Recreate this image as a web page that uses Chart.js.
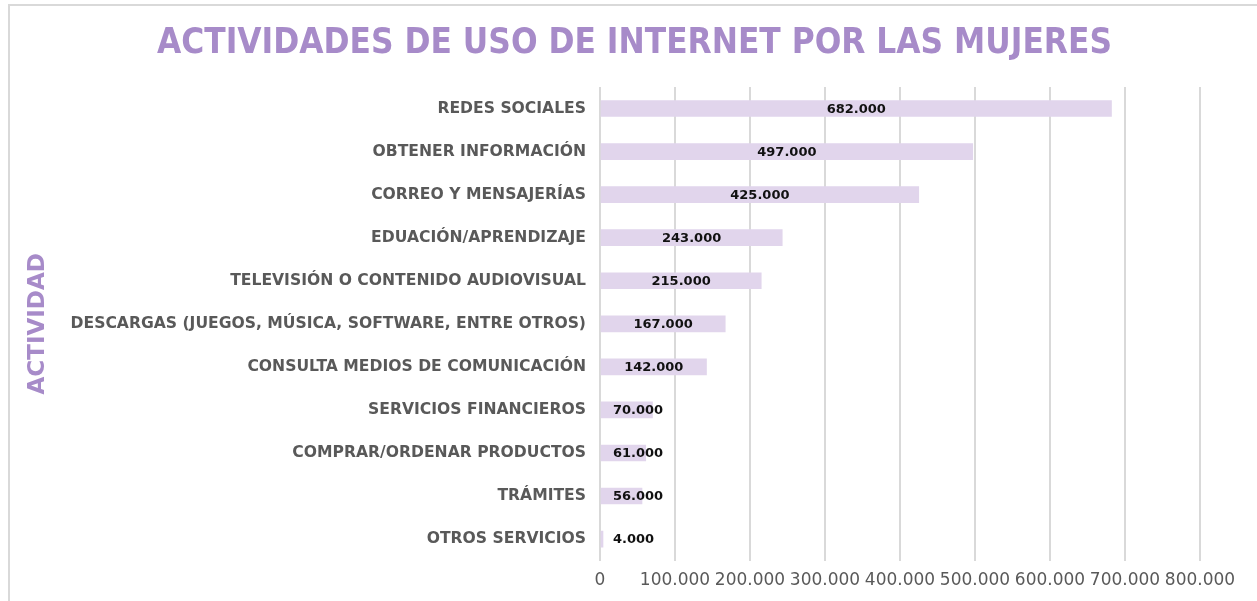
<!DOCTYPE html>
<html>
<head>
<meta charset="utf-8">
<script src="https://cdn.jsdelivr.net/npm/chart.js@4/dist/chart.umd.min.js"></script>
<style>
    html, body { margin: 0; padding: 0; background: #fff; overflow: hidden; }
    #wrap { position: relative; width: 1257px; height: 601px; overflow: hidden; }
    #frame { position: absolute; left: 8px; top: 4px; width: 2000px; height: 2000px;
             border-left: 2px solid #d9d9d9; border-top: 2px solid #d9d9d9; }
    canvas { position: absolute; left: 0; top: 0; }
</style>
</head>
<body>
<div id="wrap">
    <div id="frame"></div>
    <canvas id="chart" width="1257" height="601"></canvas>
</div>
<script>
// --- datos del gráfico ---
const chartTitle = "ACTIVIDADES DE USO DE INTERNET POR LAS MUJERES";
const axisTitle = "ACTIVIDAD";
const categories = [
    "REDES SOCIALES",
    "OBTENER INFORMACIÓN",
    "CORREO Y MENSAJERÍAS",
    "EDUACIÓN/APRENDIZAJE",
    "TELEVISIÓN O CONTENIDO AUDIOVISUAL",
    "DESCARGAS (JUEGOS, MÚSICA, SOFTWARE, ENTRE OTROS)",
    "CONSULTA MEDIOS DE COMUNICACIÓN",
    "SERVICIOS FINANCIEROS",
    "COMPRAR/ORDENAR PRODUCTOS",
    "TRÁMITES",
    "OTROS SERVICIOS"
];
const values = [682000, 497000, 425000, 243000, 215000, 167000, 142000, 70000, 61000, 56000, 4000];
const xMax = 800000;
const xStep = 100000;

const purple = '#a78bc9';
const barColor = '#e1d5ec';
const grey = '#595959';

// separador de miles con punto
function fmt(v) {
    return String(v).replace(/\B(?=(\d{3})+(?!\d))/g, '.');
}

// título dibujado a mano (la fuente original es más estrecha)
const titlePlugin = {
    id: 'titleDraw',
    afterDraw(chart) {
        const ctx = chart.ctx;
        ctx.save();
        ctx.font = 'bold 36px "DejaVu Sans"';
        const w = ctx.measureText(chartTitle).width;
        ctx.translate(634.5, 53);
        ctx.scale(955 / w, 1);
        ctx.fillStyle = purple;
        ctx.textAlign = 'center';
        ctx.textBaseline = 'alphabetic';
        ctx.fillText(chartTitle, 0, 0);
        ctx.restore();
    }
};

// etiquetas de valor dentro de las barras
const valueLabels = {
    id: 'valueLabels',
    afterDatasetsDraw(chart) {
        const ctx = chart.ctx;
        const meta = chart.getDatasetMeta(0);
        ctx.save();
        ctx.font = 'bold 13px "DejaVu Sans"';
        ctx.fillStyle = '#111';
        ctx.textAlign = 'center';
        ctx.textBaseline = 'middle';
        meta.data.forEach((bar, i) => {
            const txt = fmt(values[i]);
            const w = ctx.measureText(txt).width;
            let x = (bar.base + bar.x) / 2;
            x = Math.max(x, bar.base + 12 + w / 2);
            ctx.fillText(txt, x, bar.y + 1);
        });
        ctx.restore();
    }
};

const ctx = document.getElementById('chart').getContext('2d');
new Chart(ctx, {
    type: 'bar',
    data: {
        labels: categories,
        datasets: [{
            data: values,
            backgroundColor: barColor,
            borderWidth: 0,
            barThickness: 16
        }]
    },
    options: {
        indexAxis: 'y',
        responsive: false,
        animation: false,
        layout: { padding: { top: 87, left: 20, right: 57, bottom: 0 } },
        plugins: {
            legend: { display: false },
            tooltip: { enabled: false }
        },
        scales: {
            x: {
                min: 0,
                max: xMax,
                border: { display: false },
                grid: { color: '#d9d9d9', lineWidth: 2, drawTicks: false },
                ticks: {
                    stepSize: xStep,
                    padding: 10,
                    color: grey,
                    font: { family: '"DejaVu Sans"', size: 17 },
                    maxRotation: 0,
                    autoSkip: false,
                    callback: v => fmt(v)
                }
            },
            y: {
                border: { display: false },
                grid: { display: false, drawTicks: false },
                afterFit(scale) { scale.width = 580; },
                ticks: {
                    padding: 14,
                    color: grey,
                    font: { family: '"DejaVu Sans"', size: 15.6, weight: 'bold' }
                },
                title: {
                    display: true,
                    text: axisTitle,
                    color: purple,
                    padding: { top: 4, bottom: 0 },
                    font: { family: '"DejaVu Sans"', size: 23, weight: 'bold' }
                }
            }
        }
    },
    plugins: [titlePlugin, valueLabels]
});
</script>
</body>
</html>
